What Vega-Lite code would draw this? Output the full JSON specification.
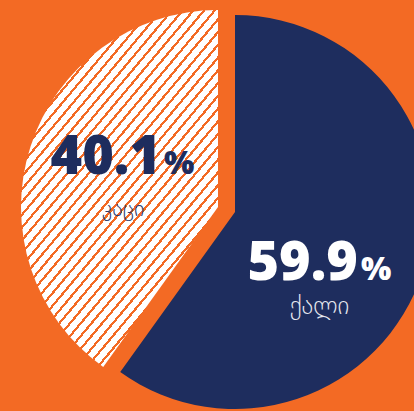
{
  "$schema": "https://vega.github.io/schema/vega-lite/v6.json",
  "autosize": "none",
  "width": 414,
  "height": 411,
  "padding": 0,
  "background": "#F36A24",
  "config": {"view": {"stroke": null}},
  "data": {"values": [
    {"gender": "ქალი", "value": 59.9},
    {"gender": "კაცი", "value": 40.1}
  ]},
  "encoding": {
    "theta": {"field": "value", "type": "quantitative", "stack": true},
    "order": {"field": "gender", "sort": "descending"}
  },
  "layer": [
    {
      "mark": {"type": "arc", "radius": 197, "fill": "#1E2D5E", "xOffset": 28, "yOffset": 6.5},
      "encoding": {"opacity": {"condition": {"test": "datum.gender === 'ქალი'", "value": 1}, "value": 0}}
    },
    {
      "mark": {"type": "arc", "radius": 197, "xOffset": 11, "yOffset": 1.5,
        "fill": {"gradient": "linear", "x1": 0, "y1": 0, "x2": 0.82, "y2": 1.247, "stops": [
{"offset":0,"color":"#F36A24"},{"offset":0.0055,"color":"#F36A24"},{"offset":0.0055,"color":"#ffffff"},{"offset":0.02,"color":"#ffffff"},
{"offset":0.02,"color":"#F36A24"},{"offset":0.0255,"color":"#F36A24"},{"offset":0.0255,"color":"#ffffff"},{"offset":0.04,"color":"#ffffff"},
{"offset":0.04,"color":"#F36A24"},{"offset":0.0455,"color":"#F36A24"},{"offset":0.0455,"color":"#ffffff"},{"offset":0.06,"color":"#ffffff"},
{"offset":0.06,"color":"#F36A24"},{"offset":0.0655,"color":"#F36A24"},{"offset":0.0655,"color":"#ffffff"},{"offset":0.08,"color":"#ffffff"},
{"offset":0.08,"color":"#F36A24"},{"offset":0.0855,"color":"#F36A24"},{"offset":0.0855,"color":"#ffffff"},{"offset":0.10,"color":"#ffffff"},
{"offset":0.10,"color":"#F36A24"},{"offset":0.1055,"color":"#F36A24"},{"offset":0.1055,"color":"#ffffff"},{"offset":0.12,"color":"#ffffff"},
{"offset":0.12,"color":"#F36A24"},{"offset":0.1255,"color":"#F36A24"},{"offset":0.1255,"color":"#ffffff"},{"offset":0.14,"color":"#ffffff"},
{"offset":0.14,"color":"#F36A24"},{"offset":0.1455,"color":"#F36A24"},{"offset":0.1455,"color":"#ffffff"},{"offset":0.16,"color":"#ffffff"},
{"offset":0.16,"color":"#F36A24"},{"offset":0.1655,"color":"#F36A24"},{"offset":0.1655,"color":"#ffffff"},{"offset":0.18,"color":"#ffffff"},
{"offset":0.18,"color":"#F36A24"},{"offset":0.1855,"color":"#F36A24"},{"offset":0.1855,"color":"#ffffff"},{"offset":0.20,"color":"#ffffff"},
{"offset":0.20,"color":"#F36A24"},{"offset":0.2055,"color":"#F36A24"},{"offset":0.2055,"color":"#ffffff"},{"offset":0.22,"color":"#ffffff"},
{"offset":0.22,"color":"#F36A24"},{"offset":0.2255,"color":"#F36A24"},{"offset":0.2255,"color":"#ffffff"},{"offset":0.24,"color":"#ffffff"},
{"offset":0.24,"color":"#F36A24"},{"offset":0.2455,"color":"#F36A24"},{"offset":0.2455,"color":"#ffffff"},{"offset":0.26,"color":"#ffffff"},
{"offset":0.26,"color":"#F36A24"},{"offset":0.2655,"color":"#F36A24"},{"offset":0.2655,"color":"#ffffff"},{"offset":0.28,"color":"#ffffff"},
{"offset":0.28,"color":"#F36A24"},{"offset":0.2855,"color":"#F36A24"},{"offset":0.2855,"color":"#ffffff"},{"offset":0.30,"color":"#ffffff"},
{"offset":0.30,"color":"#F36A24"},{"offset":0.3055,"color":"#F36A24"},{"offset":0.3055,"color":"#ffffff"},{"offset":0.32,"color":"#ffffff"},
{"offset":0.32,"color":"#F36A24"},{"offset":0.3255,"color":"#F36A24"},{"offset":0.3255,"color":"#ffffff"},{"offset":0.34,"color":"#ffffff"},
{"offset":0.34,"color":"#F36A24"},{"offset":0.3455,"color":"#F36A24"},{"offset":0.3455,"color":"#ffffff"},{"offset":0.36,"color":"#ffffff"},
{"offset":0.36,"color":"#F36A24"},{"offset":0.3655,"color":"#F36A24"},{"offset":0.3655,"color":"#ffffff"},{"offset":0.38,"color":"#ffffff"},
{"offset":0.38,"color":"#F36A24"},{"offset":0.3855,"color":"#F36A24"},{"offset":0.3855,"color":"#ffffff"},{"offset":0.40,"color":"#ffffff"},
{"offset":0.40,"color":"#F36A24"},{"offset":0.4055,"color":"#F36A24"},{"offset":0.4055,"color":"#ffffff"},{"offset":0.42,"color":"#ffffff"},
{"offset":0.42,"color":"#F36A24"},{"offset":0.4255,"color":"#F36A24"},{"offset":0.4255,"color":"#ffffff"},{"offset":0.44,"color":"#ffffff"},
{"offset":0.44,"color":"#F36A24"},{"offset":0.4455,"color":"#F36A24"},{"offset":0.4455,"color":"#ffffff"},{"offset":0.46,"color":"#ffffff"},
{"offset":0.46,"color":"#F36A24"},{"offset":0.4655,"color":"#F36A24"},{"offset":0.4655,"color":"#ffffff"},{"offset":0.48,"color":"#ffffff"},
{"offset":0.48,"color":"#F36A24"},{"offset":0.4855,"color":"#F36A24"},{"offset":0.4855,"color":"#ffffff"},{"offset":0.50,"color":"#ffffff"},
{"offset":0.50,"color":"#F36A24"},{"offset":0.5055,"color":"#F36A24"},{"offset":0.5055,"color":"#ffffff"},{"offset":0.52,"color":"#ffffff"},
{"offset":0.52,"color":"#F36A24"},{"offset":0.5255,"color":"#F36A24"},{"offset":0.5255,"color":"#ffffff"},{"offset":0.54,"color":"#ffffff"},
{"offset":0.54,"color":"#F36A24"},{"offset":0.5455,"color":"#F36A24"},{"offset":0.5455,"color":"#ffffff"},{"offset":0.56,"color":"#ffffff"},
{"offset":0.56,"color":"#F36A24"},{"offset":0.5655,"color":"#F36A24"},{"offset":0.5655,"color":"#ffffff"},{"offset":0.58,"color":"#ffffff"},
{"offset":0.58,"color":"#F36A24"},{"offset":0.5855,"color":"#F36A24"},{"offset":0.5855,"color":"#ffffff"},{"offset":0.60,"color":"#ffffff"},
{"offset":0.60,"color":"#F36A24"},{"offset":0.6055,"color":"#F36A24"},{"offset":0.6055,"color":"#ffffff"},{"offset":0.62,"color":"#ffffff"},
{"offset":0.62,"color":"#F36A24"},{"offset":0.6255,"color":"#F36A24"},{"offset":0.6255,"color":"#ffffff"},{"offset":0.64,"color":"#ffffff"},
{"offset":0.64,"color":"#F36A24"},{"offset":0.6455,"color":"#F36A24"},{"offset":0.6455,"color":"#ffffff"},{"offset":0.66,"color":"#ffffff"},
{"offset":0.66,"color":"#F36A24"},{"offset":0.6655,"color":"#F36A24"},{"offset":0.6655,"color":"#ffffff"},{"offset":0.68,"color":"#ffffff"},
{"offset":0.68,"color":"#F36A24"},{"offset":0.6855,"color":"#F36A24"},{"offset":0.6855,"color":"#ffffff"},{"offset":0.70,"color":"#ffffff"},
{"offset":0.70,"color":"#F36A24"},{"offset":0.7055,"color":"#F36A24"},{"offset":0.7055,"color":"#ffffff"},{"offset":0.72,"color":"#ffffff"},
{"offset":0.72,"color":"#F36A24"},{"offset":0.7255,"color":"#F36A24"},{"offset":0.7255,"color":"#ffffff"},{"offset":0.74,"color":"#ffffff"},
{"offset":0.74,"color":"#F36A24"},{"offset":0.7455,"color":"#F36A24"},{"offset":0.7455,"color":"#ffffff"},{"offset":0.76,"color":"#ffffff"},
{"offset":0.76,"color":"#F36A24"},{"offset":0.7655,"color":"#F36A24"},{"offset":0.7655,"color":"#ffffff"},{"offset":0.78,"color":"#ffffff"},
{"offset":0.78,"color":"#F36A24"},{"offset":0.7855,"color":"#F36A24"},{"offset":0.7855,"color":"#ffffff"},{"offset":0.80,"color":"#ffffff"},
{"offset":0.80,"color":"#F36A24"},{"offset":0.8055,"color":"#F36A24"},{"offset":0.8055,"color":"#ffffff"},{"offset":0.82,"color":"#ffffff"},
{"offset":0.82,"color":"#F36A24"},{"offset":0.8255,"color":"#F36A24"},{"offset":0.8255,"color":"#ffffff"},{"offset":0.84,"color":"#ffffff"},
{"offset":0.84,"color":"#F36A24"},{"offset":0.8455,"color":"#F36A24"},{"offset":0.8455,"color":"#ffffff"},{"offset":0.86,"color":"#ffffff"},
{"offset":0.86,"color":"#F36A24"},{"offset":0.8655,"color":"#F36A24"},{"offset":0.8655,"color":"#ffffff"},{"offset":0.88,"color":"#ffffff"},
{"offset":0.88,"color":"#F36A24"},{"offset":0.8855,"color":"#F36A24"},{"offset":0.8855,"color":"#ffffff"},{"offset":0.90,"color":"#ffffff"},
{"offset":0.90,"color":"#F36A24"},{"offset":0.9055,"color":"#F36A24"},{"offset":0.9055,"color":"#ffffff"},{"offset":0.92,"color":"#ffffff"},
{"offset":0.92,"color":"#F36A24"},{"offset":0.9255,"color":"#F36A24"},{"offset":0.9255,"color":"#ffffff"},{"offset":0.94,"color":"#ffffff"},
{"offset":0.94,"color":"#F36A24"},{"offset":0.9455,"color":"#F36A24"},{"offset":0.9455,"color":"#ffffff"},{"offset":0.96,"color":"#ffffff"},
{"offset":0.96,"color":"#F36A24"},{"offset":0.9655,"color":"#F36A24"},{"offset":0.9655,"color":"#ffffff"},{"offset":1,"color":"#ffffff"}
        ]}},
      "encoding": {"opacity": {"condition": {"test": "datum.gender === 'კაცი'", "value": 1}, "value": 0}}
    },
    {
      "mark": {"type": "text", "radius": 115, "dx": 41.5, "dy": 39.3, "align": "right", "baseline": "alphabetic", "font": "Open Sans", "fontWeight": 800, "fontSize": 54, "fill": "#FFFFFF"},
      "encoding": {"text": {"condition": {"test": "datum.gender === 'ქალი'", "field": "value", "type": "quantitative", "format": ".1f"}, "value": ""}}
    },
    {
      "mark": {"type": "text", "radius": 115, "dx": 44.5, "dy": 39.3, "align": "left", "baseline": "alphabetic", "font": "Open Sans", "fontWeight": 800, "fontSize": 32, "fill": "#FFFFFF"},
      "encoding": {"text": {"condition": {"test": "datum.gender === 'ქალი'", "value": "%"}, "value": ""}}
    },
    {
      "mark": {"type": "text", "radius": 115, "dx": 3, "dy": 73, "align": "center", "baseline": "alphabetic", "font": "DejaVu Sans", "fontWeight": 200, "fontSize": 25, "fill": "#E6E8F0"},
      "encoding": {"text": {"condition": {"test": "datum.gender === 'ქალი'", "field": "gender", "type": "nominal"}, "value": ""}}
    },
    {
      "mark": {"type": "text", "radius": 115, "dx": 63.5, "dy": 3.7, "align": "right", "baseline": "alphabetic", "font": "Open Sans", "fontWeight": 800, "fontSize": 54, "fill": "#1E2D5E"},
      "encoding": {"text": {"condition": {"test": "datum.gender === 'კაცი'", "field": "value", "type": "quantitative", "format": ".1f"}, "value": ""}}
    },
    {
      "mark": {"type": "text", "radius": 115, "dx": 66.5, "dy": 3.7, "align": "left", "baseline": "alphabetic", "font": "Open Sans", "fontWeight": 800, "fontSize": 32, "fill": "#1E2D5E"},
      "encoding": {"text": {"condition": {"test": "datum.gender === 'კაცი'", "value": "%"}, "value": ""}}
    },
    {
      "mark": {"type": "text", "radius": 115, "dx": 25.5, "dy": 46, "align": "center", "baseline": "alphabetic", "font": "DejaVu Sans", "fontWeight": 200, "fontSize": 22, "fill": "#2A3A6B"},
      "encoding": {"text": {"condition": {"test": "datum.gender === 'კაცი'", "field": "gender", "type": "nominal"}, "value": ""}}
    }
  ]
}
